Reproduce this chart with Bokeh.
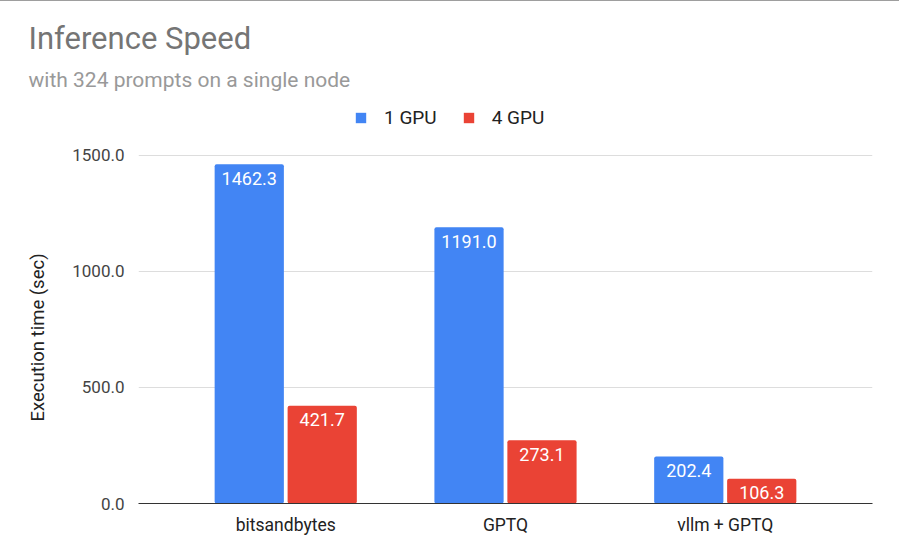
from bokeh.plotting import figure
from bokeh.models import (ColumnDataSource, FixedTicker, NumeralTickFormatter, Title,
                          Legend, LegendItem, Range1d)
from bokeh.transform import dodge
from bokeh.core.properties import value
from bokeh.embed import file_html
from bokeh.resources import INLINE

categories = ["bitsandbytes", "GPTQ", "vllm + GPTQ"]
gpu1 = [1462.3, 1191.0, 202.4]
gpu4 = [421.7, 273.1, 106.3]
series_names = ["1 GPU", "4 GPU"]
y_ticks = [0, 500, 1000, 1500]
y_title = "Execution time (sec)"

BLUE = "#4285F4"
RED = "#EA4335"
FONT = "Roboto"

xs = list(range(len(categories)))
src = ColumnDataSource(dict(
    x=xs, g1=gpu1, g4=gpu4,
    l1=[f"{v:.1f}" for v in gpu1], l4=[f"{v:.1f}" for v in gpu4],
))

W, H = 899, 557
left, right, top, bottom = 138, 872, 100, 502  # canvas coords of the frame
px_per_unit = 355 / 1530
y_end = (bottom - top) / px_per_unit

p = figure(width=W, height=H, output_backend="svg", toolbar_location=None,
           x_range=Range1d(-0.67, 2.67), y_range=Range1d(0, y_end),
           min_border_left=left, min_border_right=W - right,
           min_border_top=top, min_border_bottom=H - bottom,
           title=None)
p.styles = {"border-top": "1px solid #9e9e9e"}
p.outline_line_color = None
p.background_fill_color = "white"
p.border_fill_color = "white"

off = 0.166
bw = 0.315
r1 = p.vbar(x=dodge("x", -off), top="g1", width=bw, source=src,
            fill_color=BLUE, line_color=None, border_radius=2)
r4 = p.vbar(x=dodge("x", off), top="g4", width=bw, source=src,
            fill_color=RED, line_color=None, border_radius=2)

for col, o in (("l1", -off), ("l4", off)):
    p.text(x=dodge("x", o), y="g1" if col == "l1" else "g4", text=col, source=src,
           text_color="white", text_font=value(FONT), text_font_size="18px",
           text_align="center", text_baseline="alphabetic", y_offset=14)

# axes
p.xaxis.ticker = FixedTicker(ticks=xs)
p.xaxis.major_label_overrides = {i: c for i, c in enumerate(categories)}
p.xaxis.major_tick_line_color = None
p.xaxis.minor_tick_line_color = None
p.xaxis.axis_line_color = "#333333"
p.xaxis.axis_line_width = 1
p.xaxis.major_label_text_font = FONT
p.xaxis.major_label_text_font_size = "17.5px"
p.xaxis.major_label_text_color = "#222222"
p.xaxis.major_label_standoff = 5

p.yaxis.ticker = FixedTicker(ticks=y_ticks)
p.yaxis.formatter = NumeralTickFormatter(format="0.0")
p.yaxis.axis_line_color = None
p.yaxis.major_tick_line_color = None
p.yaxis.minor_tick_line_color = None
p.yaxis.major_label_text_font = FONT
p.yaxis.major_label_text_font_size = "17px"
p.yaxis.major_label_text_color = "#444444"
p.yaxis.major_label_standoff = 8

# y-axis title as a left-side title so it can sit on the gridded area
p.add_layout(Title(text=y_title, align="left", offset=82,
                   text_font=FONT, text_font_size="18.5px",
                   text_font_style="normal", text_color="#222222",
                   standoff=42), "left")

p.xgrid.grid_line_color = None
p.ygrid.ticker = FixedTicker(ticks=y_ticks)
p.ygrid.grid_line_color = "#dddddd"
p.ygrid.grid_line_width = 1

legend = Legend(items=[LegendItem(label=series_names[0], renderers=[r1]),
                       LegendItem(label=series_names[1], renderers=[r4])],
                location=(354 - left, bottom - 128), orientation="horizontal",
                glyph_width=13, glyph_height=13, label_height=13,
                label_standoff=17, spacing=25, padding=0, margin=0,
                label_text_font=FONT, label_text_font_size="19px",
                label_text_color="#222222", border_line_color=None,
                background_fill_alpha=0)
p.add_layout(legend, "center")

p.add_layout(Title(text="with 324 prompts on a single node", align="left",
                   offset=28 - left, text_font=FONT, text_font_size="21px",
                   text_font_style="normal", text_color="#999999",
                   standoff=19), "above")
p.add_layout(Title(text="Inference Speed", align="left",
                   offset=28 - left, text_font=FONT, text_font_size="31px",
                   text_font_style="normal", text_color="#757575",
                   standoff=0), "above")

open("out.html", "w").write(file_html(p, INLINE))
